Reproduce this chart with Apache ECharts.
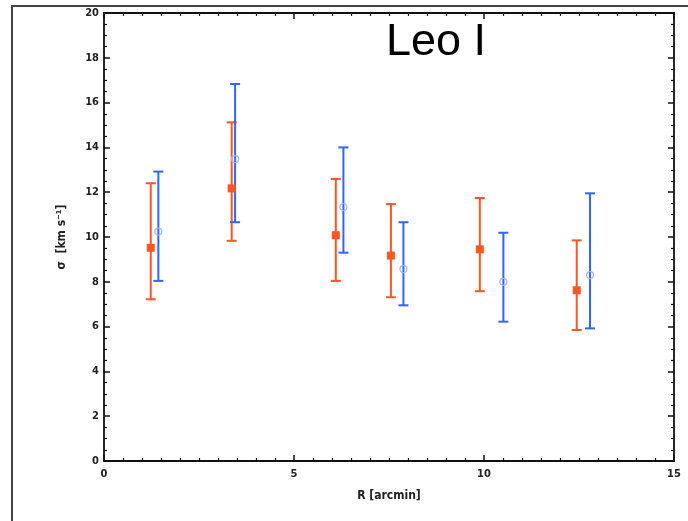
<!DOCTYPE html>
<html><head><meta charset="utf-8">
<script src="https://cdn.jsdelivr.net/npm/echarts@6/dist/echarts.min.js"></script>
<style>html,body{margin:0;padding:0;background:#fff}#c{width:688px;height:521px}</style>
</head><body><div id="c"></div>
<script>
// Orange (filled squares)
const orangeR     = [1.23, 3.36, 6.10, 7.55, 9.89, 12.44];
const orangeSigma = [9.52, 12.17, 10.08, 9.17, 9.45, 7.62];
const orangeLo    = [7.22, 9.83, 8.04, 7.31, 7.58, 5.85];
const orangeHi    = [12.40, 15.12, 12.59, 11.47, 11.74, 9.85];
// Blue (open circles)
const blueR     = [1.43, 3.45, 6.30, 7.88, 10.51, 12.79];
const blueSigma = [10.24, 13.48, 11.34, 8.57, 8.00, 8.30];
const blueLo    = [8.04, 10.66, 9.30, 6.95, 6.22, 5.92];
const blueHi    = [12.92, 16.83, 14.00, 10.66, 10.19, 11.95];
const xTicks = [0, 5, 10, 15];
const yTicks = [0, 2, 4, 6, 8, 10, 12, 14, 16, 18, 20];

const ORANGE = '#ff5522', BLUE = '#2f66ff';
const chart = echarts.init(document.getElementById('c'));

function errSeries(name, xs, lo, hi, color) {
  return {
    type: 'custom', name, z: 2,
    data: xs.map((x, i) => [x, lo[i], hi[i]]),
    renderItem: function (params, api) {
      const p0 = api.coord([api.value(0), api.value(1)]);
      const p1 = api.coord([api.value(0), api.value(2)]);
      const w = 5;
      const st = { stroke: color, lineWidth: 2 };
      return { type: 'group', children: [
        { type: 'line', shape: { x1: p0[0], y1: p0[1], x2: p1[0], y2: p1[1] }, style: st },
        { type: 'line', shape: { x1: p0[0] - w, y1: p0[1], x2: p0[0] + w, y2: p0[1] }, style: st },
        { type: 'line', shape: { x1: p1[0] - w, y1: p1[1], x2: p1[0] + w, y2: p1[1] }, style: st }
      ]};
    }
  };
}

const axLine = { show: true, onZero: false, lineStyle: { color: '#111', width: 1.8 } };
const tickLabel = { fontFamily: 'DejaVu Sans Condensed', fontWeight: 'bold', fontSize: 11, color: '#222' };

chart.setOption({
  animation: false,
  backgroundColor: '#fff',
  title: { text: 'Leo I', left: 381, top: 15, textStyle: { fontFamily: 'Liberation Sans', fontWeight: 'normal', fontSize: 45, color: '#000' } },
  grid: { left: 104, right: 14, top: 13, bottom: 60 },
  xAxis: [
    { type: 'value', min: 0, max: 15, interval: 5, position: 'bottom',
      axisLine: axLine, splitLine: { show: false },
      axisTick: { inside: true, length: 6, lineStyle: { color: '#111', width: 1.5 } },
      minorTick: { show: true, splitNumber: 10, length: 3, lineStyle: { color: '#111', width: 1.2 } },
      axisLabel: Object.assign({ margin: 8, formatter: v => xTicks.includes(v) ? String(v) : '' }, tickLabel),
      name: 'R [arcmin]', nameLocation: 'middle', nameGap: 29,
      nameTextStyle: { fontFamily: 'DejaVu Sans Condensed', fontWeight: 'bold', fontSize: 12, color: '#222' } },
    { type: 'value', min: 0, max: 15, interval: 5, position: 'top',
      axisLine: axLine, splitLine: { show: false },
      axisTick: { inside: true, length: 6, lineStyle: { color: '#111', width: 1.5 } },
      minorTick: { show: true, splitNumber: 10, length: 3, lineStyle: { color: '#111', width: 1.2 } },
      axisLabel: { show: false } }
  ],
  yAxis: [
    { type: 'value', min: 0, max: 20, interval: 2, position: 'left',
      axisLine: axLine, splitLine: { show: false },
      axisTick: { inside: true, length: 6, lineStyle: { color: '#111', width: 1.5 } },
      minorTick: { show: true, splitNumber: 4, length: 3, lineStyle: { color: '#111', width: 1.2 } },
      axisLabel: Object.assign({ margin: 5, formatter: v => yTicks.includes(v) ? String(v) : '' }, tickLabel),
      name: 'σ  [km s⁻¹]', nameLocation: 'middle', nameGap: 36, nameRotate: 90,
      nameTextStyle: { fontFamily: 'DejaVu Sans Condensed', fontWeight: 'bold', fontSize: 12, color: '#222' } },
    { type: 'value', min: 0, max: 20, interval: 2, position: 'right',
      axisLine: axLine, splitLine: { show: false },
      axisTick: { inside: true, length: 6, lineStyle: { color: '#111', width: 1.5 } },
      minorTick: { show: true, splitNumber: 4, length: 3, lineStyle: { color: '#111', width: 1.2 } },
      axisLabel: { show: false } }
  ],
  graphic: [
    { type: 'rect', shape: { x: 12, y: 6, width: 720, height: 560 }, style: { fill: 'none', stroke: '#444', lineWidth: 2 }, silent: true, z: -1 }
  ],
  series: [
    errSeries('orangeErr', orangeR, orangeLo, orangeHi, ORANGE),
    errSeries('blueErr', blueR, blueLo, blueHi, BLUE),
    { type: 'scatter', name: 'orange', z: 3, symbol: 'rect', symbolSize: 8,
      itemStyle: { color: ORANGE, opacity: 1 },
      data: orangeR.map((x, i) => [x, orangeSigma[i]]) },
    { type: 'scatter', name: 'blue', z: 3, symbol: 'circle', symbolSize: 7,
      itemStyle: { color: 'rgba(255,255,255,0)', borderColor: '#9db5ff', borderWidth: 1.2, opacity: 1 },
      data: blueR.map((x, i) => [x, blueSigma[i]]) }
  ]
});
</script></body></html>
